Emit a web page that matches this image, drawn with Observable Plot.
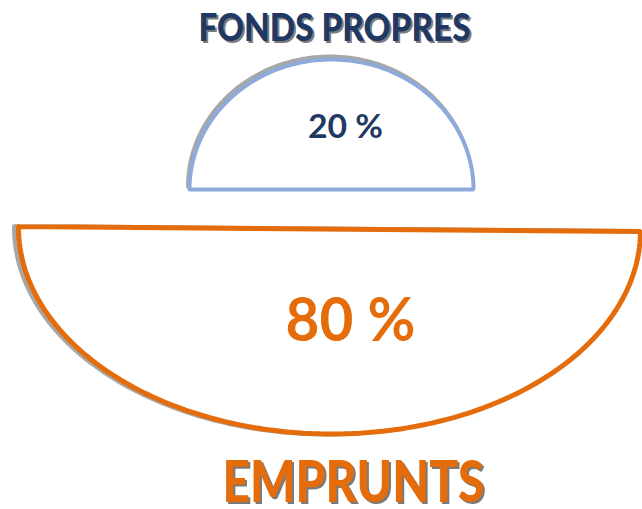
<!DOCTYPE html>
<html>
<head>
<meta charset="utf-8">
<script src="https://cdn.jsdelivr.net/npm/d3@7"></script>
<script src="https://cdn.jsdelivr.net/npm/@observablehq/plot@0.6"></script>
<style>
  html, body { margin: 0; padding: 0; background: #fff; }
  #chart { width: 642px; height: 509px; }
</style>
</head>
<body>
<div id="chart"></div>
<script>
// ---- data ----
const categories = ["FONDS PROPRES", "EMPRUNTS"];
const shares = [20, 80];
const shareLabels = ["20 %", "80 %"];

// ---- geometry / style (layout, not data) ----
const colors = {"FONDS PROPRES": "#8eaadb", "EMPRUNTS": "#e46c0a"};
const textColors = {"FONDS PROPRES": "#1f3864", "EMPRUNTS": "#e46c0a"};
const shapes = {
  "FONDS PROPRES": {cx: 331, cy: 189, rx: 142, ry: 130, dir: -1, tilt: 0, sw: 4, sdx: -1.5, sdy: -3},
  "EMPRUNTS": {cx: 329, cy: 228.5, rx: 311, ry: 205, dir: 1, tilt: 0.46, sw: 5, sdx: -4, sdy: 0}
};
const layout = {
  "FONDS PROPRES": {nameX: 334, nameY: 40, nameSize: 37, nameW: 272, shareX: 345, shareY: 137, shareSize: 33, shareW: 75},
  "EMPRUNTS": {nameX: 353, nameY: 501, nameSize: 58, nameW: 262, shareX: 350, shareY: 340, shareSize: 62, shareW: 130}
};

function halfEllipse(cat) {
  const s = shapes[cat];
  const a = s.tilt * Math.PI / 180;
  const pts = [];
  const N = 120;
  for (let i = 0; i <= N; i++) {
    const t = Math.PI * i / N;
    const dx = -s.rx * Math.cos(t);
    const dy = s.dir * s.ry * Math.sin(t);
    pts.push({cat, x: s.cx + dx * Math.cos(a) - dy * Math.sin(a), y: s.cy + dx * Math.sin(a) + dy * Math.cos(a)});
  }
  pts.push({...pts[0]});
  return pts;
}

const nameRows = categories.map((c) => ({cat: c, text: c, x: layout[c].nameX, y: layout[c].nameY, size: layout[c].nameSize}));
const shareRows = categories.map((c, i) => ({cat: c, text: shareLabels[i], value: shares[i], x: layout[c].shareX, y: layout[c].shareY, size: layout[c].shareSize}));

const font = "Lato, 'Open Sans', 'DejaVu Sans', sans-serif";

const outlineMarks = categories.flatMap(c => {
  const pts = halfEllipse(c);
  const s = shapes[c];
  return [
    Plot.line(pts, {x: "x", y: "y", stroke: "#8a8a8a", strokeWidth: s.sw, strokeOpacity: 0.75, dx: s.sdx, dy: s.sdy, strokeLinejoin: "miter"}),
    Plot.line(pts, {x: "x", y: "y", stroke: colors[c], fill: "white", strokeWidth: s.sw, strokeLinejoin: "miter"})
  ];
});

const plot = Plot.plot({
  width: 642,
  height: 509,
  margin: 0,
  x: {domain: [0, 642], range: [0, 642], axis: null},
  y: {domain: [0, 509], range: [0, 509], axis: null},
  style: {fontFamily: font, background: "#fff"},
  marks: [
    ...outlineMarks,
    Plot.text(nameRows, {x: "x", y: "y", text: "text", fill: "#222", fillOpacity: 0.6, fontWeight: 900, fontSize: d => d.size, lineAnchor: "bottom", dx: 2, dy: 2}),
    Plot.text(nameRows, {x: "x", y: "y", text: "text", fill: d => textColors[d.cat], fontWeight: 900, fontSize: d => d.size, lineAnchor: "bottom"}),
    Plot.text(shareRows, {x: "x", y: "y", text: "text", fill: d => textColors[d.cat], fontWeight: "bold", fontSize: d => d.size, lineAnchor: "bottom"})
  ]
});

// force text widths to match reference
const widths = {};
categories.forEach((c, i) => { widths[c] = layout[c].nameW; widths[shareLabels[i]] = layout[c].shareW; });
d3.select(plot).selectAll("text").each(function() {
  const t = this.textContent;
  if (widths[t]) {
    this.setAttribute("textLength", widths[t]);
    this.setAttribute("lengthAdjust", "spacingAndGlyphs");
  }
});

document.getElementById("chart").appendChild(plot);
</script>
</body>
</html>
